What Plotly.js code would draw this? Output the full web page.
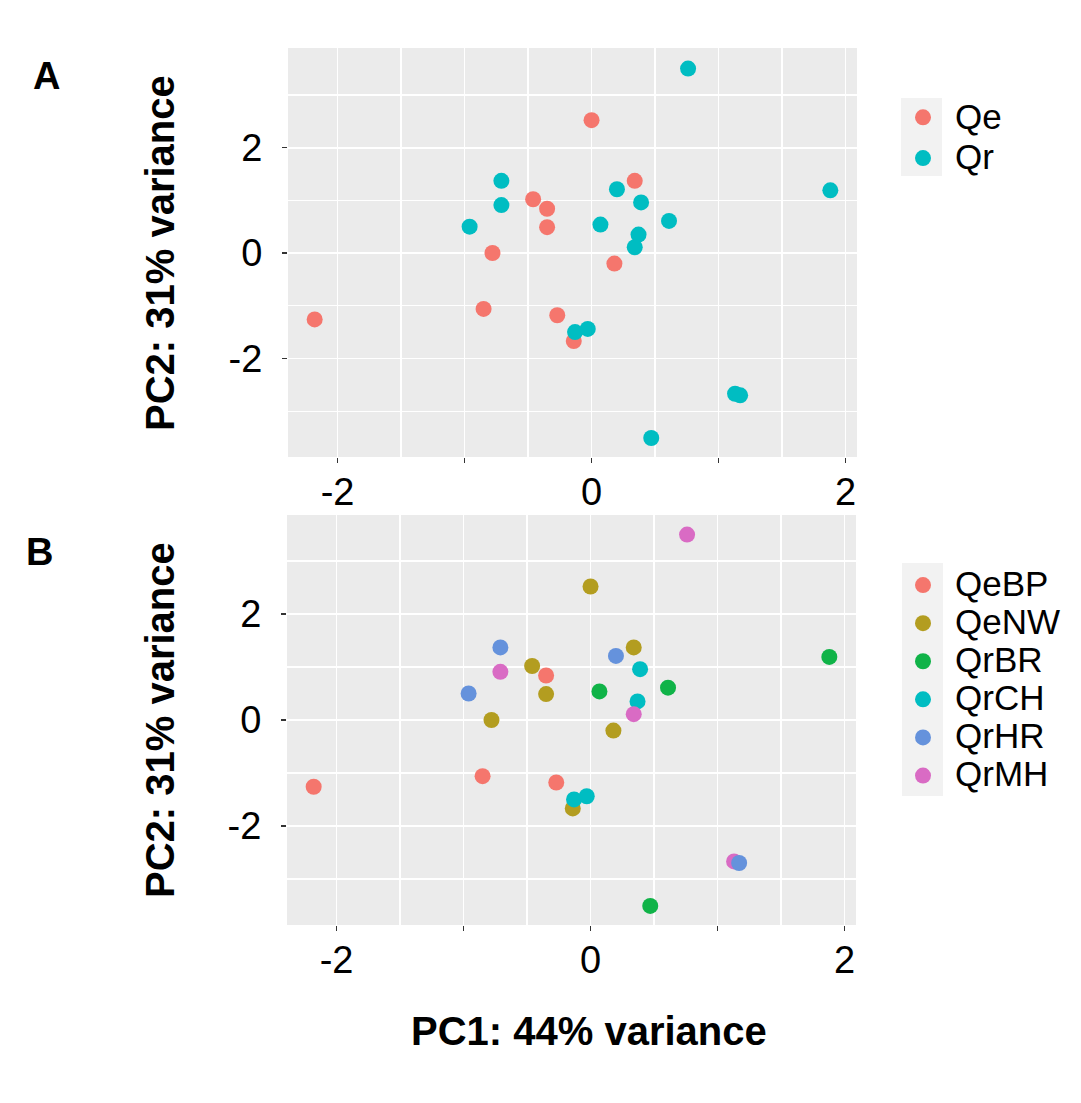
<!DOCTYPE html>
<html>
<head>
<meta charset="utf-8">
<script src="https://cdn.plot.ly/plotly-3.0.1.min.js"></script>
<style>html,body{margin:0;padding:0;background:#fff;}#chart{width:1081px;height:1103px;}</style>
</head>
<body>
<div id="chart"></div>
<script>
// ---- Data (PC1, PC2 scores per population) ----
const QeBP_x = [-0.35, -2.18, -0.85, -0.27];
const QeBP_y = [0.84, -1.26, -1.06, -1.18];
const QeNW_x = [-0.46, -0.35, -0.78, 0.00, 0.34, 0.18, -0.14];
const QeNW_y = [1.02, 0.49, 0.00, 2.52, 1.37, -0.20, -1.67];
const QrBR_x = [1.88, 0.07, 0.61, 0.47];
const QrBR_y = [1.19, 0.54, 0.61, -3.51];
const QrCH_x = [0.39, 0.37, -0.13, -0.03];
const QrCH_y = [0.96, 0.35, -1.50, -1.44];
const QrHR_x = [-0.71, -0.96, 0.20, 1.17];
const QrHR_y = [1.37, 0.50, 1.21, -2.70];
const QrMH_x = [-0.71, 0.76, 0.34, 1.13];
const QrMH_y = [0.91, 3.50, 0.11, -2.67];

const speciesNames = ["Qe", "Qr"];
const popNames = ["QeBP", "QeNW", "QrBR", "QrCH", "QrHR", "QrMH"];
const xTickVals = [-2, -1, 0, 1, 2];
const xTickText = ["-2", "", "0", "", "2"];
const yTickVals = [-2, 0, 2];
const yTickText = ["-2", "0", "2"];
const xTitle = "PC1: 44% variance";
const yTitle = "PC2: 31% variance";

// ---- Styling ----
const W = 1081, H = 1103;
const px = v => v / W;
const py = v => (H - v) / H;
const speciesColors = ["#F5766D", "#00BDC2"];
const popColors = ["#F5766D", "#B39D20", "#10B348", "#00BDC2", "#6592DC", "#D96BC4"];
const FONT = "Liberation Sans, Arial, Helvetica, sans-serif";
const MSIZE = 16;
const legendLabel = s => "<span style='font-size:35px'>" + s + "</span>";

const popX = [QeBP_x, QeNW_x, QrBR_x, QrCH_x, QrHR_x, QrMH_x];
const popY = [QeBP_y, QeNW_y, QrBR_y, QrCH_y, QrHR_y, QrMH_y];

const traces = [];
// Panel A: species
const QeX = QeBP_x.concat(QeNW_x), QeY = QeBP_y.concat(QeNW_y);
const QrX = QrBR_x.concat(QrCH_x, QrMH_x, QrHR_x), QrY = QrBR_y.concat(QrCH_y, QrMH_y, QrHR_y);
[[QeX, QeY], [QrX, QrY]].forEach((d, i) => {
  traces.push({
    type: "scatter", mode: "markers", x: d[0], y: d[1], name: legendLabel(speciesNames[i]),
    xaxis: "x", yaxis: "y", legend: "legend",
    marker: {color: speciesColors[i], size: MSIZE, line: {width: 0}}
  });
});
// Panel B: populations (draw order so HR sits on top of MH)
const drawOrder = [0, 1, 2, 3, 5, 4];
drawOrder.forEach(i => {
  traces.push({
    type: "scatter", mode: "markers", x: popX[i], y: popY[i], name: legendLabel(popNames[i]),
    xaxis: "x2", yaxis: "y2", legend: "legend2", legendrank: i + 1,
    marker: {color: popColors[i], size: MSIZE, line: {width: 0}}
  });
});

function xAxis(domain, range, anchor) {
  return {
    domain: domain, range: range, anchor: anchor, zeroline: false,
    tickmode: "array", tickvals: xTickVals, ticktext: xTickText,
    ticks: "outside", ticklen: 5, tickwidth: 1.5, tickcolor: "#333",
    tickfont: {family: FONT, size: 38, color: "#000"},
    showgrid: true, gridcolor: "#FFFFFF", gridwidth: 1.8,
    minor: {tickvals: [-1.5, -0.5, 0.5, 1.5], showgrid: true, gridcolor: "#FFFFFF", gridwidth: 1.2, ticks: ""},
    showline: false, fixedrange: true, ticklabelstandoff: -4
  };
}
function yAxis(domain, range, anchor) {
  return {
    domain: domain, range: range, anchor: anchor, zeroline: false,
    tickmode: "array", tickvals: yTickVals, ticktext: yTickText,
    ticks: "outside", ticklen: 5, tickwidth: 1.5, tickcolor: "#333",
    tickfont: {family: FONT, size: 38, color: "#000"},
    showgrid: true, gridcolor: "#FFFFFF", gridwidth: 1.8,
    minor: {tickvals: [-3, -1, 1, 3], showgrid: true, gridcolor: "#FFFFFF", gridwidth: 1.2, ticks: ""},
    showline: false, fixedrange: true, ticklabelstandoff: 12
  };
}

const layout = {
  width: W, height: H, autosize: false,
  margin: {l: 0, r: 0, t: 0, b: 0},
  paper_bgcolor: "#FFFFFF", plot_bgcolor: "#EBEBEB",
  font: {family: FONT, color: "#000"},
  xaxis: xAxis([px(288), px(857)], [-2.39, 2.09], "y"),
  yaxis: yAxis([py(457), py(48)], [-3.87, 3.89], "x"),
  xaxis2: xAxis([px(287), px(856)], [-2.39, 2.09], "y2"),
  yaxis2: yAxis([py(925), py(515)], [-3.87, 3.87], "x2"),
  legend: {
    x: px(891), y: py(92), xanchor: "left", yanchor: "top",
    bgcolor: "rgba(0,0,0,0)", font: {family: FONT, size: 29, color: "#000"},
    itemwidth: 54, tracegroupgap: 0
  },
  legend2: {
    x: px(891), y: py(561), xanchor: "left", yanchor: "top",
    bgcolor: "rgba(0,0,0,0)", font: {family: FONT, size: 27, color: "#000"},
    itemwidth: 54, tracegroupgap: 0
  },
  shapes: [
    {type: "rect", xref: "paper", yref: "paper", x0: px(901), x1: px(942), y0: py(176), y1: py(98),
     fillcolor: "#F2F2F2", line: {width: 0}, layer: "below"},
    {type: "rect", xref: "paper", yref: "paper", x0: px(902), x1: px(943), y0: py(796), y1: py(563),
     fillcolor: "#F2F2F2", line: {width: 0}, layer: "below"}
  ],
  annotations: [
    {text: "<b>A</b>", xref: "paper", yref: "paper", x: px(46), y: py(76), xanchor: "center", yanchor: "middle",
     showarrow: false, font: {family: FONT, size: 38, color: "#000"}},
    {text: "<b>B</b>", xref: "paper", yref: "paper", x: px(39), y: py(552), xanchor: "center", yanchor: "middle",
     showarrow: false, font: {family: FONT, size: 38, color: "#000"}},
    {text: "<b>" + yTitle + "</b>", xref: "paper", yref: "paper", x: px(160), y: py(253), xanchor: "center", yanchor: "middle",
     textangle: -90, showarrow: false, font: {family: FONT, size: 40, color: "#000"}},
    {text: "<b>" + yTitle + "</b>", xref: "paper", yref: "paper", x: px(160), y: py(720), xanchor: "center", yanchor: "middle",
     textangle: -90, showarrow: false, font: {family: FONT, size: 40, color: "#000"}},
    {text: "<b>" + xTitle + "</b>", xref: "paper", yref: "paper", x: px(589), y: py(1031), xanchor: "center", yanchor: "middle",
     showarrow: false, font: {family: FONT, size: 40, color: "#000"}}
  ],
  showlegend: true
};

Plotly.newPlot("chart", traces, layout, {staticPlot: true, displayModeBar: false});
</script>
</body>
</html>
